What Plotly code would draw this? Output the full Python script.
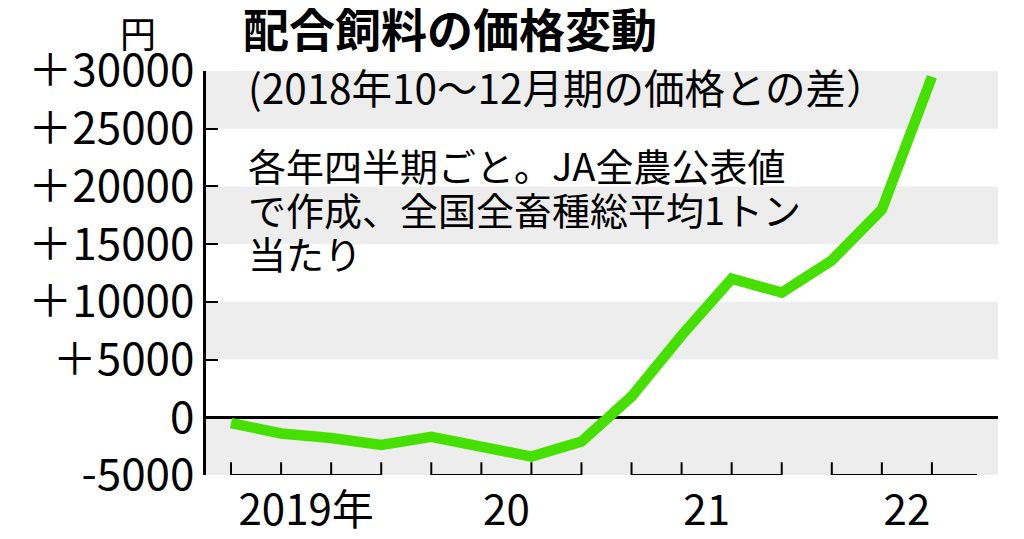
import plotly.graph_objects as go

# 配合飼料の価格変動（2018年10〜12月期との差, 円/トン）
years = [2019, 2020, 2021, 2022]
year_labels = ["2019年", "20", "21", "22"]
quarters_per_year = [4, 4, 4, 3]
price_diff = [-500, -1400, -1800, -2400,
              -1700, -2500, -3400, -2100,
              1800, 7100, 12000, 10800,
              13600, 18000, 29500]

y_ticks = [30000, 25000, 20000, 15000, 10000, 5000, 0, -5000]
y_ticktext = ["＋30000", "＋25000", "＋20000", "＋15000", "＋10000", "＋5000", "0", "-5000"]

FONT = "Noto Sans CJK JP"
OFF = 8  # Standard-Rand des <body> in der HTML-Seite
W, H = 1024 - OFF, 539 - OFF
# Plotfläche in Bildschirmpixeln
PX0, PX1, PY0, PY1 = 206, 998, 71, 475


def px(x, y):
    # Bildschirmpixel -> paper-Koordinaten
    return (x - PX0) / (PX1 - PX0), (PY1 - y) / (PY1 - PY0)


x_idx = list(range(len(price_diff)))

fig = go.Figure()
fig.add_trace(go.Scatter(
    x=x_idx, y=price_diff, mode="lines",
    line=dict(color="#45E000", width=10.5),
    hoverinfo="skip",
))

shapes = []
# graue Bänder
for lo in [25000, 15000, 5000, -5000]:
    shapes.append(dict(type="rect", xref="paper", yref="y", x0=0, x1=1,
                       y0=lo, y1=lo + 5000, fillcolor="#EDEDED",
                       line=dict(width=0), layer="below"))

# Jahresklammern unter der Achse
start = 0
for n in quarters_per_year:
    end = start + 3 if n == 4 else start + n - 1 + 0.9
    shapes.append(dict(type="line", xref="x", yref="y", x0=start, x1=end,
                       y0=-5000, y1=-5000, line=dict(color="black", width=2)))
    for q in range(n):
        shapes.append(dict(type="line", xref="x", yref="y", x0=start + q, x1=start + q,
                           y0=-5000, y1=-3900, line=dict(color="black", width=2)))
    start += 4

annotations = []
ax, ay = px(138, 32)
annotations.append(dict(text="円", x=ax, y=ay, xref="paper", yref="paper",
                        xanchor="center", yanchor="middle",
                        showarrow=False, font=dict(size=36)))
sx, sy = px(246, 86)
annotations.append(dict(text="(2018年10〜12月期の価格との差）", x=sx, y=sy,
                        xref="paper", yref="paper", xanchor="left", yanchor="middle",
                        showarrow=False, font=dict(size=40.5)))
note_lines = ["各年四半期ごと。JA全農公表値", "で作成、全国全畜種総平均1トン", "当たり"]
for i, line in enumerate(note_lines):
    nx, ny = px(246, 164 + i * 44.5)
    annotations.append(dict(text=line, x=nx, y=ny, xref="paper", yref="paper",
                            xanchor="left", yanchor="middle",
                            showarrow=False, font=dict(size=38)))

fig.update_layout(
    width=W, height=H,
    margin=dict(l=PX0 - OFF, r=W - (PX1 - OFF), t=PY0 - OFF, b=H - (PY1 - OFF)),
    plot_bgcolor="white", paper_bgcolor="white",
    font=dict(family=FONT, color="black"),
    showlegend=False,
    title=dict(text="<b>配合飼料の価格変動</b>", xref="container", yref="container",
               x=(243 - OFF) / W, y=1 - (31 - OFF) / H, xanchor="left", yanchor="middle",
               font=dict(size=46, family=FONT)),
    xaxis=dict(range=[-0.5, 15.32], showgrid=False, zeroline=False, showline=False,
               tickvals=[1.5, 5.5, 9.5, 13.5], ticktext=year_labels, automargin=False,
               ticks="", tickfont=dict(size=42), ticklabelstandoff=7),
    yaxis=dict(range=[-5000, 30000], showgrid=False, automargin=False,
               zeroline=True, zerolinecolor="black", zerolinewidth=3,
               showline=True, linecolor="black", linewidth=2.5,
               tickvals=y_ticks, ticktext=y_ticktext,
               ticks="inside", ticklen=12, tickwidth=2, tickcolor="black",
               tickfont=dict(size=44), ticklabelstandoff=0),
    shapes=shapes,
    annotations=annotations,
)

fig.write_html("out.html")
